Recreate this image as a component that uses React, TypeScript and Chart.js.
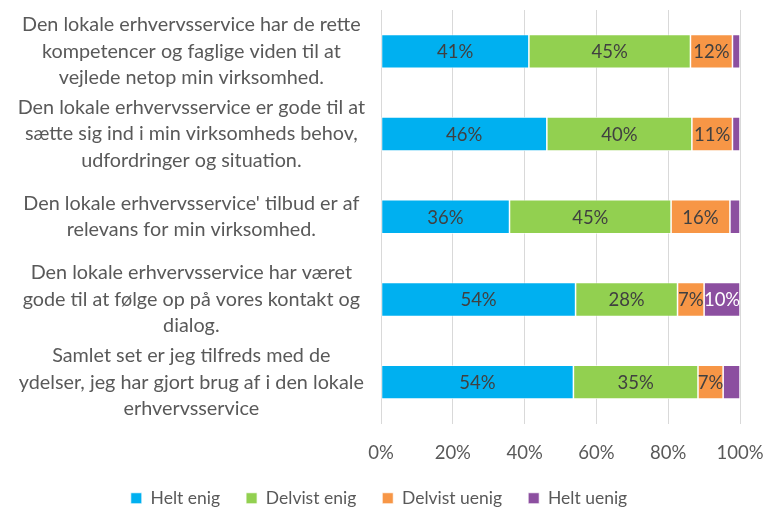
import React, { useEffect, useRef } from "react";
import { Chart, registerables } from "chart.js";

Chart.register(...registerables);

const categories: string[][] = [
  ["Den lokale erhvervsservice har de rette", "kompetencer og faglige viden til at", "vejlede netop min virksomhed."],
  ["Den lokale erhvervsservice er gode til at", "sætte sig ind i min virksomheds behov,", "udfordringer og situation."],
  ["Den lokale erhvervsservice' tilbud er af", "relevans for min virksomhed."],
  ["Den lokale erhvervsservice har været", "gode til at følge op på vores kontakt og", "dialog."],
  ["Samlet set er jeg tilfreds med de", "ydelser, jeg har gjort brug af i den lokale", "erhvervsservice"],
];

const seriesNames = ["Helt enig", "Delvist enig", "Delvist uenig", "Helt uenig"];
const heltEnig = [41.2, 46.2, 35.8, 54.2, 53.6];
const delvistEnig = [45.0, 40.4, 45.0, 28.4, 34.7];
const delvistUenig = [11.7, 11.3, 16.4, 7.4, 7.0];
const heltUenig = [2.1, 2.1, 2.8, 10.0, 4.7];
const xTicks = [0, 20, 40, 60, 80, 100];

const colors = ["#00B0F0", "#92D050", "#F79646", "#8C4FA0"];
const labelColors = ["#404040", "#404040", "#404040", "#FFFFFF"];

const FONT = "Lato";
const FS = 18.5;
const CAT_FS = 19.8;
const LEG_FS = 17.5;

const dataLabelPlugin = {
  id: "dataLabels",
  afterDatasetsDraw(chart: any) {
    const ctx = chart.ctx;
    ctx.save();
    ctx.font = `${FS}px ${FONT}`;
    ctx.textAlign = "center";
    ctx.textBaseline = "middle";
    chart.data.datasets.forEach((ds: any, i: number) => {
      const meta = chart.getDatasetMeta(i);
      meta.data.forEach((el: any, j: number) => {
        const v = ds.data[j];
        if (v < 5) return;
        const cx = (el.x + el.base) / 2;
        ctx.fillStyle = labelColors[i];
        ctx.fillText(Math.round(v) + "%", cx, el.y + 1);
      });
    });
    ctx.restore();
  },
};

export default function App() {
  const ref = useRef<HTMLCanvasElement>(null);
  useEffect(() => {
    document.body.style.margin = "0";
    const series = [heltEnig, delvistEnig, delvistUenig, heltUenig];
    const chart = new Chart(ref.current!, {
      type: "bar",
      data: {
        labels: categories,
        datasets: series.map((d, i) => ({
          label: seriesNames[i],
          data: d,
          backgroundColor: colors[i],
          borderColor: "#FFFFFF",
          borderWidth: 0.75,
          borderSkipped: false,
          barPercentage: 0.41,
          categoryPercentage: 1,
        })),
      },
      options: {
        indexAxis: "y",
        responsive: false,
        animation: false,
        layout: { padding: { left: 18, right: 34, top: 10, bottom: -5 } },
        plugins: {
          legend: {
            position: "bottom",
            labels: {
              boxWidth: 11,
              boxHeight: 11,
              padding: 26,
              color: "#595959",
              font: { family: FONT, size: LEG_FS },
            },
          },
          tooltip: { enabled: false },
        },
        scales: {
          x: {
            stacked: true,
            min: 0,
            max: 100,
            afterBuildTicks(scale: any) {
              scale.ticks = xTicks.map((v) => ({ value: v }));
            },
            afterFit(scale: any) {
              scale.paddingLeft = 0;
              scale.paddingRight = 0;
              scale.height = 40;
            },
            grid: { color: "#D9D9D9", lineWidth: 1, drawTicks: false },
            border: { display: false },
            ticks: {
              padding: 18,
              color: "#595959",
              font: { family: FONT, size: FS },
              callback: (v: any) => v + "%",
            },
          },
          y: {
            stacked: true,
            grid: { display: false, drawTicks: false },
            border: { display: true, color: "#D9D9D9" },
            afterFit(scale: any) {
              scale.width = 363;
              scale.paddingTop = 0;
              scale.paddingBottom = 0;
            },
            ticks: {
              autoSkip: false,
              crossAlign: "center",
              padding: 16,
              color: "#595959",
              font: { family: FONT, size: CAT_FS, lineHeight: 26.5 / CAT_FS },
            },
          },
        },
      },
      plugins: [dataLabelPlugin],
    });
    return () => chart.destroy();
  }, []);
  return (
    <div style={{ width: 774, height: 512 }}>
      <canvas ref={ref} width={774} height={512} />
    </div>
  );
}
